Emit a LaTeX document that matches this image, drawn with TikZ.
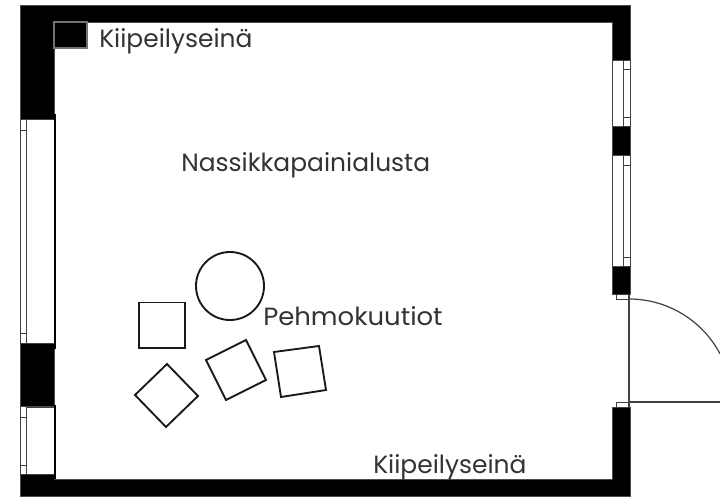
\documentclass[tikz,border=0pt]{standalone}
\usepackage{fontspec}
\setmainfont{Poppins}
\definecolor{labelink}{gray}{0.2}
\tikzset{
  x=0.75pt,y=-0.75pt,
  wall/.style={fill=black,draw=black!70,line width=0.6pt},
  frameline/.style={draw=black!75,line width=0.7pt,fill=none},
  thickline/.style={draw=black,line width=1.8pt},
  cube/.style={draw=black!90,line width=1.4pt,fill=white},
  label/.style={text=labelink,anchor=west,inner sep=0pt,font=\fontsize{18.7pt}{22pt}\selectfont},
}
\begin{document}
\begin{tikzpicture}
\useasboundingbox (0,0) rectangle (720,496);
\fill[white] (0,0) rectangle (720,496);
% walls
\path[wall] (20,5) -- (630,5) -- (630,60) -- (612,60) -- (612,22) -- (54,22) -- (54,119) -- (20,119) -- cycle;
\path[wall] (20,343) rectangle (54,406);
\path[wall] (20,474) -- (54,474) -- (54,479) -- (612,479) -- (612,407) -- (630,407) -- (630,496) -- (20,496) -- cycle;
\path[wall] (612,126) rectangle (630,155);
\path[wall] (612,266) rectangle (630,294);
% left windows
\draw[frameline] (20,119) rectangle (26,343);
\draw[frameline] (20,130) -- (26,130) (20,333) -- (26,333);
\draw[frameline] (26,119) -- (54,119) (26,343) -- (54,343);
\draw[thickline] (55,114) -- (55,349);
\draw[frameline] (20,406) rectangle (26,474);
\draw[frameline] (20,417) -- (26,417) (20,465) -- (26,465);
\draw[frameline] (26,407) -- (54,407) (26,474) -- (54,474);
\draw[thickline] (55,405) -- (55,479);
% right windows
\draw[frameline] (612.5,60) -- (612.5,126) (612.5,155) -- (612.5,266);
\draw[frameline] (623,60) rectangle (630,126);
\draw[frameline] (623,69) -- (630,69) (623,117) -- (630,117);
\draw[frameline] (623,155) rectangle (630,266);
\draw[frameline] (623,165) -- (630,165) (623,257) -- (630,257);
% door
\draw[frameline] (616,294) rectangle (629,299);
\draw[frameline] (616,402) rectangle (629,407);
\draw[frameline,line width=0.9pt] (629,294) -- (629,407);
\draw[frameline,line width=0.9pt] (629,402) -- (720,402);
\draw[frameline,line width=0.9pt] (629,299) arc[start angle=-90,end angle=-28,radius=103];
% corner block
\path[fill=black,draw=black!55,line width=0.9pt] (54,22) rectangle (87,48);
% soft cubes
\draw[cube] (230,286) circle[radius=34];
\draw[cube] (139,302.5) rectangle (185,348);
\draw[cube] (167,364) -- (198,396) -- (166,427) -- (135,395) -- cycle;
\draw[cube] (206,360) -- (246,340) -- (266,380) -- (226,400) -- cycle;
\draw[cube] (274,352) -- (319,346) -- (326,390) -- (281,397) -- cycle;
% labels
\node[label] (k1) at (99,41) {Kiipeilyseinä};
\node[label] (n) at (181,165) {Nassikkapainialusta};
\node[label,xscale=1.04] (p) at (263,316) {Pehmokuutiot};
\node[label] (k2) at (373,467) {Kiipeilyseinä};
\end{tikzpicture}
\end{document}
